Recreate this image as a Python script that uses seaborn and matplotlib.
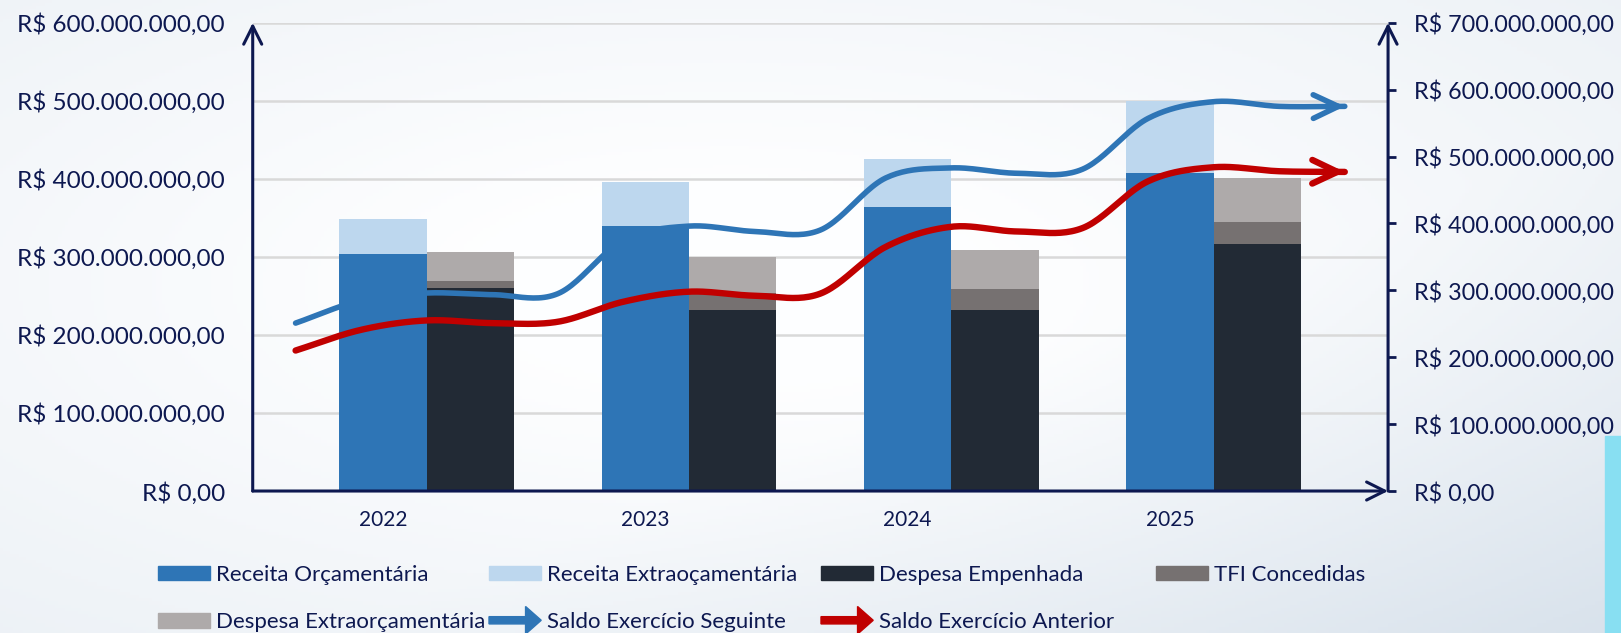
# Receitas x Despesas 2022-2025 com saldos

import numpy as np
import matplotlib
matplotlib.use("Agg")
import matplotlib.pyplot as plt
import seaborn as sns
from matplotlib.patches import Patch, FancyArrow, Rectangle
from matplotlib.legend_handler import HandlerPatch
from matplotlib.ticker import FuncFormatter, MultipleLocator


# Dados (em milhões de R$)

anos = ["2022", "2023", "2024", "2025"]

receita_orc = [304.0, 340.0, 364.5, 408.0]
receita_extra = [44.5, 56.5, 61.0, 92.0]
despesa_emp = [259.5, 232.5, 232.5, 316.5]
tfi = [10.0, 21.0, 26.5, 28.5]
despesa_extra = [37.0, 46.5, 49.5, 56.5]

# saldos lidos a cada quarto de ano, de 2022 - 0,5 até 2025 + 0,5
saldo_seguinte = [251, 285, 296, 293.5, 295, 375, 396, 388, 390,
                  468, 483, 475, 481, 557, 582, 575, 575]
saldo_anterior = [210, 241, 255, 251, 253, 283, 298, 292, 295,
                  365, 395, 388, 393, 463, 484, 478, 477]


# Cores

azul = "#2e75b6"
azul_claro = "#bdd7ee"
grafite = "#222a35"
cinza_escuro = "#767171"
cinza_claro = "#aeaaaa"
vermelho = "#c00000"
navy = "#0d1850"


sns.set_theme(style="white")
plt.rcParams["font.family"] = ["Lato", "DejaVu Sans"]


def brl(v, pos):
    s = f"{v * 1e6:,.2f}"
    s = s.replace(",", "X").replace(".", ",").replace("X", ".")
    return "R$ " + s


def suavizar(v, n=24):
    # curva suave (Catmull-Rom) passando pelos pontos
    v = np.asarray(v, float)
    v = np.r_[2 * v[0] - v[1], v, 2 * v[-1] - v[-2]]
    t = np.linspace(0, 1, n + 1)[:-1]
    partes = []
    for i in range(1, len(v) - 2):
        p0, p1, p2, p3 = v[i - 1:i + 3]
        partes.append(0.5 * (2 * p1 + (p2 - p0) * t
                             + (2 * p0 - 5 * p1 + 4 * p2 - p3) * t ** 2
                             + (3 * p1 - p0 - 3 * p2 + p3) * t ** 3))
    return np.r_[np.concatenate(partes), v[-2]]


fig = plt.figure(figsize=(16.21, 6.33), dpi=100)

# Fundo em degradê
bg = fig.add_axes([0, 0, 1, 1], zorder=-10)
yy, xx = np.mgrid[0:1:200j, 0:1:500j]
r = np.sqrt(((xx - 0.45) / 0.55) ** 2 + ((yy - 0.45) / 0.55) ** 2)
f = np.clip(0.42 * np.clip(r - 0.3, 0, None) + 0.6 * np.clip(xx + yy - 1.2, 0, None), 0, 1)
escuro = np.array([0.84, 0.88, 0.92])
img = (1 - f[..., None]) * np.array([0.995, 0.997, 1.0]) + f[..., None] * escuro
bg.imshow(img, aspect="auto", extent=[0, 1, 0, 1])
bg.axis("off")
fig.patches.append(Rectangle((1605 / 1621, 0), 16 / 1621, 197 / 633,
                             transform=fig.transFigure, color="#88dff2", zorder=-5))

ax = fig.add_axes([0.1559, 0.2243, 0.7004, 0.7398])
ax.set_facecolor("none")
ax2 = ax.twinx()

pos = np.arange(len(anos))
w = 1 / 3

# Barras empilhadas
barra = dict(width=w, linewidth=0, zorder=2)
ax.bar(pos - w / 2, receita_orc, color=azul, **barra)
ax.bar(pos - w / 2, receita_extra, bottom=receita_orc, color=azul_claro, **barra)
ax.bar(pos + w / 2, despesa_emp, color=grafite, **barra)
ax.bar(pos + w / 2, tfi, bottom=despesa_emp, color=cinza_escuro, **barra)
ax.bar(pos + w / 2, despesa_extra, bottom=np.add(despesa_emp, tfi),
       color=cinza_claro, **barra)

ax.set_xlim(-0.6634, 3.665)
ax.set_ylim(0, 600)
ax2.set_ylim(0, 700)
ax.yaxis.set_major_locator(MultipleLocator(100))
ax2.yaxis.set_major_locator(MultipleLocator(100))
ax.yaxis.set_major_formatter(FuncFormatter(brl))
ax2.yaxis.set_major_formatter(FuncFormatter(brl))
ax.yaxis.grid(True, color="#d9d9d9", lw=1.8, zorder=0)
ax.set_axisbelow(True)

ax.set_xticks(pos - w / 2)
ax.set_xticklabels(anos)

ax.tick_params(axis="x", length=0, pad=14, labelsize=15, labelcolor=navy)
ax.tick_params(axis="y", length=0, pad=20, labelsize=17.5, labelcolor=navy)
ax2.tick_params(axis="y", right=True, direction="out", length=6, width=2,
                color=navy, pad=13, labelsize=16.8, labelcolor=navy)

for a in (ax, ax2):
    for s in a.spines.values():
        s.set_visible(False)

# Eixos com setas
seta_eixo = dict(arrowstyle="->,head_length=1.3,head_width=0.65", lw=2.2,
                 color=navy, shrinkA=0, shrinkB=0, mutation_scale=10)
for xy, xyt in [((0, 1), (0, 0)), ((1, 1), (1, 0)), ((1.0, 0), (0, 0))]:
    ax2.annotate("", xy=xy, xytext=xyt, xycoords="axes fraction",
                 arrowprops=seta_eixo, annotation_clip=False)

# Linhas de saldo
for serie, cor, lw in [(saldo_anterior, vermelho, 4.6), (saldo_seguinte, azul, 4.0)]:
    xs = suavizar(np.linspace(-0.5, len(anos) - 0.5, len(serie)))
    ys = suavizar(serie)
    sns.lineplot(x=xs, y=ys, ax=ax2, color=cor, lw=lw, sort=False,
                 estimator=None, legend=False, solid_capstyle="round")
    ax2.annotate("", xy=(xs[-1], ys[-1]), xytext=(xs[-8], ys[-8]),
                 arrowprops=dict(arrowstyle="->,head_length=1.8,head_width=0.85",
                                 color=cor, lw=lw, shrinkA=0, shrinkB=0,
                                 mutation_scale=10, capstyle="round",
                                 joinstyle="round"))
ax2.set_ylabel("")


# Legenda (4 colunas)

def icone_seta(legend, orig_handle, xdescent, ydescent, width, height, fontsize):
    return FancyArrow(-xdescent, -ydescent + height / 2, width, 0,
                      width=height * 0.5, head_width=height * 1.9,
                      head_length=width * 0.3, length_includes_head=True)


colunas = [
    [(Patch(color=azul), "Receita Orçamentária"),
     (Patch(color=cinza_claro), "Despesa Extraorçamentária")],
    [(Patch(color=azul_claro), "Receita Extraoçamentária"),
     (Patch(color=azul), "Saldo Exercício Seguinte")],
    [(Patch(color=grafite), "Despesa Empenhada"),
     (Patch(color=vermelho), "Saldo Exercício Anterior")],
    [(Patch(color=cinza_escuro), "TFI Concedidas")],
]
x_col = [158, 489, 821, 1156]
for k, col in enumerate(colunas):
    fig.legend(handles=[h for h, _ in col], labels=[l for _, l in col],
               loc="upper left", bbox_to_anchor=(x_col[k] / 1621, 1 - 565 / 633),
               frameon=False, fontsize=16, labelcolor=navy,
               handlelength=2.35, handleheight=0.63, handletextpad=0.25,
               labelspacing=1.22, borderpad=0, borderaxespad=0,
               handler_map={h: HandlerPatch(patch_func=icone_seta)
                            for h, l in col if l.startswith("Saldo")})

fig.savefig("out.png", dpi=100)
